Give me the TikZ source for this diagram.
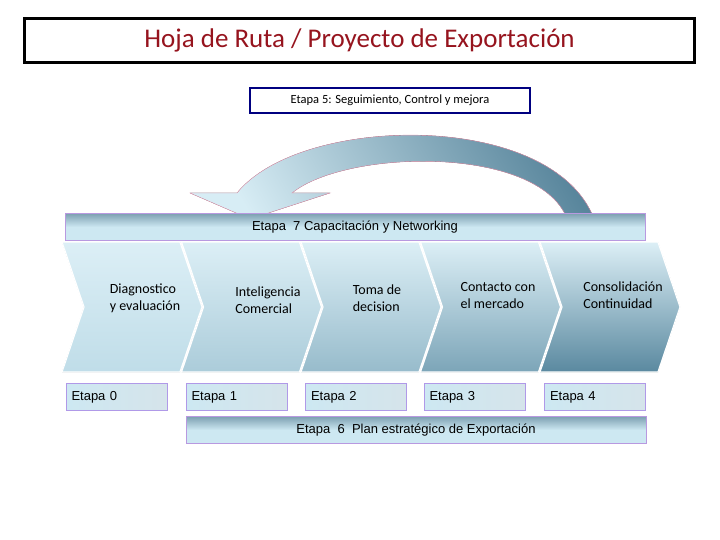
\documentclass[tikz,border=0pt]{standalone}
\usepackage{fontspec}
\setmainfont{Carlito}
\newfontfamily\arialfont{Liberation Sans}
\definecolor{hojared}{RGB}{150,20,30}
\definecolor{paleblue}{RGB}{205,232,242}
\definecolor{deepteal}{RGB}{70,120,145}
\tikzset{
  chevron/.style={draw=white,line width=1.2pt},
  barbox/.style={draw=purple!40!blue!40,top color=deepteal!70,bottom color=paleblue,middle color=paleblue,shading angle=0,minimum height=27pt,font=\arialfont\fontsize{13}{15}\selectfont},
  stagebox/.style={draw=purple!30!blue!40,left color=paleblue,right color=paleblue!60!deepteal!40,minimum width=101pt,minimum height=27pt,text width=90pt,align=left,font=\arialfont\fontsize{13}{15}\selectfont}
}
\begin{document}
\begin{tikzpicture}[x=1pt,y=-1pt]
        \useasboundingbox (0,0) rectangle (720,540);

        \node[draw,line width=3pt,minimum width=670pt,minimum height=44pt,text=hojared,font=\fontsize{27}{30}\selectfont] (title) at (359.5,40.5) {Hoja de Ruta / Proyecto de Exportación};
        \node[draw=blue!50!black,line width=1.5pt,fill=white,minimum width=280pt,minimum height=25pt,font=\fontsize{12.5}{14}\selectfont] (etapa5) at (390,100.5) {Etapa 5: Seguimiento, Control y mejora};

        % curved return arrow
        \fill[draw=purple!40,top color=deepteal!90,bottom color=paleblue!80,shading angle=-60]
          (592,214) .. controls (545,110) and (300,115) .. (237,193)
          -- (190,193) -- (250,219) -- (330,193) -- (292,193)
          .. controls (345,150) and (530,145) .. (565,214) -- cycle;

        % chevrons
        \foreach \i/\c in {0/10,1/25,2/40,3/60,4/85} {
          \pgfmathsetmacro{\xo}{62+119.5*\i}
          \fill[chevron,top color=paleblue!70!white,bottom color=deepteal!\c!paleblue]
            (\xo,242) -- ++(118,0) -- ++(22,65) -- ++(-22,65) -- ++(-118,0) -- ++(22,-65) -- cycle;
        }

        \node[barbox,minimum width=580pt] (etapa7) at (355,227) {Etapa\ \ 7 Capacitación y Networking};

        \begin{scope}[every node/.style={align=left,font=\fontsize{14}{17}\selectfont}]
          \node (diag)  at (145,298) {Diagnostico\\y evaluación};
          \node (intel) at (268,300) {Inteligencia\\Comercial};
          \node (toma)  at (377,298) {Toma de\\decision};
          \node (cont)  at (498,296) {Contacto con\\el mercado};
          \node (cons)  at (623,295) {Consolidación\\Continuidad};
        \end{scope}

        \begin{scope}[every node/.style={stagebox}]
          \node (e0) at (116.5,397) {Etapa 0};
          \node (e1) at (236.5,397) {Etapa 1};
          \node (e2) at (356,397)   {Etapa 2};
          \node (e3) at (474.5,397) {Etapa 3};
          \node (e4) at (595,397)   {Etapa 4};
        \end{scope}

        \node[barbox,minimum width=460pt] (etapa6) at (416,430) {Etapa\ \ 6\ \ Plan estratégico de Exportación};

      \end{tikzpicture}
\end{document}
